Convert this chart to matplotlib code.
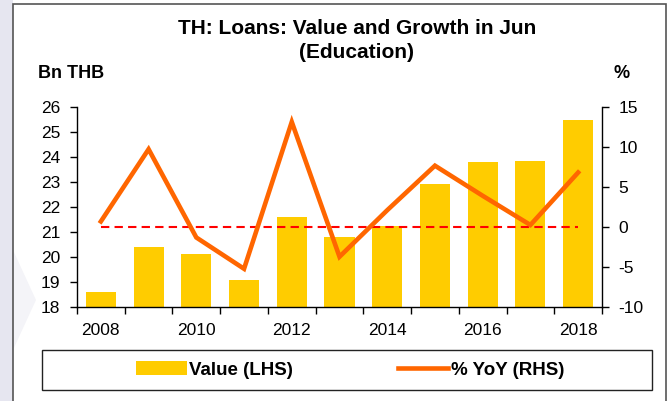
import matplotlib
matplotlib.use("Agg")
import matplotlib.pyplot as plt
from matplotlib.patches import Rectangle, Polygon, Patch
from matplotlib.lines import Line2D
import numpy as np

plt.rcParams['font.family'] = ['Liberation Sans', 'DejaVu Sans']
plt.rcParams['axes.unicode_minus'] = False

years = [2008, 2009, 2010, 2011, 2012, 2013, 2014, 2015, 2016, 2017, 2018]
value_bn_thb = [18.6, 20.4, 20.13, 19.09, 21.61, 20.82, 21.25, 22.92, 23.79, 23.83, 25.47]
yoy_pct = [0.7, 9.7, -1.3, -5.2, 13.1, -3.7, 2.1, 7.65, 3.9, 0.26, 6.8]
tick_years = [2008, 2010, 2012, 2014, 2016, 2018]

BAR = '#FFCC00'
LINE = '#FF6600'
W, H = 670, 401
TICK_FS = 12.5

fig = plt.figure(figsize=(W / 100, H / 100), dpi=100)

# page background strip and outer frame
fig.add_artist(Rectangle((0, 0), 13 / W, 1, transform=fig.transFigure,
                         facecolor='#E6E6F0', edgecolor='none', zorder=0))
fig.add_artist(Polygon([(13 / W, 1 - 250 / H), (36 / W, 1 - 300 / H), (13 / W, 1 - 350 / H)],
                       closed=True, transform=fig.transFigure,
                       facecolor='#F4F4F8', edgecolor='none', zorder=0))
fig.add_artist(Rectangle((13 / W, -0.01), 653 / W, 1 - 4 / H + 0.01, transform=fig.transFigure,
                         facecolor='none', edgecolor='#555555', linewidth=1.2, zorder=1))

ax = fig.add_axes([77 / W, 1 - 307.3 / H, (602 - 77) / W, (307.3 - 106.7) / H])
ax.patch.set_alpha(0)
x = np.arange(len(years))
ax.bar(x, value_bn_thb, width=0.63, color=BAR, zorder=2)
ax.set_ylim(18, 26)
ax.set_xlim(-0.5, len(years) - 0.5)
ax.set_yticks(range(18, 27))
ax.spines['top'].set_visible(False)
ax.spines['right'].set_visible(False)

# category boundaries as ticks, year labels on even years
ax.set_xticks(np.arange(-0.5, len(years) - 0.5 + 0.01, 1.0))
ax.set_xticklabels([])
ax.set_xticks([years.index(y) for y in tick_years], minor=True)
ax.set_xticklabels([str(y) for y in tick_years], minor=True)
ax.tick_params(axis='x', which='major', direction='out', length=5, width=1)
ax.tick_params(axis='x', which='minor', length=0, pad=11, labelsize=TICK_FS)
ax.tick_params(axis='y', direction='out', length=5, width=1, labelsize=TICK_FS, pad=7)

ax2 = ax.twinx()
ax2.plot(x, yoy_pct, color=LINE, linewidth=3.3, solid_joinstyle='miter', zorder=3)
ax2.plot([x[0], x[-1]], [0, 0], color='#FF0000', linestyle=(0, (4, 2.5)), linewidth=1.5, zorder=2)
ax2.set_ylim(-10, 15)
ax2.set_yticks(range(-10, 16, 5))
ax2.spines['top'].set_visible(False)
ax2.spines['left'].set_visible(False)
ax2.spines['bottom'].set_visible(False)
ax2.tick_params(axis='y', direction='out', length=5, width=1, labelsize=TICK_FS, pad=7)

for a in (ax, ax2):
    for s in a.spines.values():
        s.set_linewidth(1)

fig.text(357 / W, 1 - 28.5 / H, 'TH: Loans: Value and Growth in Jun', ha='center', va='center',
         fontsize=15, fontweight='bold')
fig.text(357 / W, 1 - 52 / H, '(Education)', ha='center', va='center',
         fontsize=15, fontweight='bold')
fig.text(38 / W, 1 - 73 / H, 'Bn THB', ha='left', va='center', fontsize=13, fontweight='bold')
fig.text(622 / W, 1 - 74 / H, '%', ha='center', va='center', fontsize=13, fontweight='bold')

# legend frame and entries
fig.add_artist(Rectangle((42 / W, 1 - 390 / H), 610 / W, 40 / H, transform=fig.transFigure,
                         facecolor='white', edgecolor='#222222', linewidth=1, zorder=1))
handles = [Patch(facecolor=BAR, edgecolor='none'),
           Line2D([0], [0], color=LINE, linewidth=3.3)]
fig.legend(handles, ['Value (LHS)', '% YoY (RHS)'], loc='center',
           bbox_to_anchor=(350 / W, 1 - 370 / H), ncol=2, frameon=False,
           prop={'size': 13.5, 'weight': 'bold'}, handlelength=2.7, handleheight=0.75,
           handletextpad=0.12, columnspacing=5.6)

fig.savefig('out.png', dpi=100)
